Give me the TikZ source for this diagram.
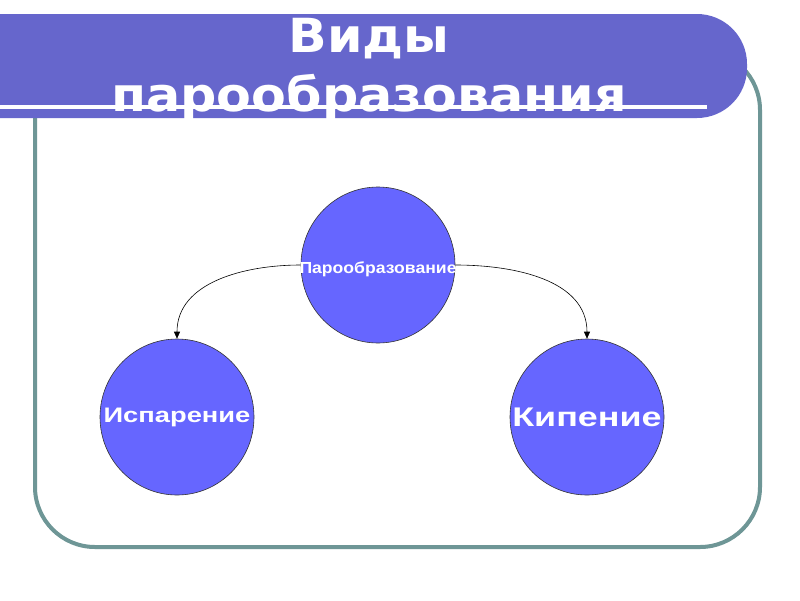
\documentclass[tikz,border=0pt]{standalone}
\usepackage{fontspec}
\setmainfont{Liberation Sans}
\newfontfamily\titlefont{DejaVu Sans}
\usetikzlibrary{shapes.geometric,arrows.meta}
\definecolor{banner}{RGB}{102,102,204}
\definecolor{ballfill}{RGB}{102,102,255}
\definecolor{framecol}{RGB}{110,150,150}
\newcommand{\wtext}[2]{\makebox[0pt]{\scalebox{#1}[1]{#2}}}
\tikzset{
  ball/.style={ellipse,draw=black!80,line width=0.6pt,fill=ballfill,minimum width=154pt,minimum height=156pt,inner sep=0pt,text=white},
  conn/.style={draw=black,line width=0.6pt,-{Triangle[length=7pt,width=6pt]}},
  titletext/.style={text=white,font=\titlefont\bfseries\fontsize{47}{50}\selectfont,inner sep=0pt,anchor=base}
}
\begin{document}
\begin{tikzpicture}[x=1pt,y=-1pt]
\useasboundingbox (0,0) rectangle (800,600);
\fill[white] (0,0) rectangle (800,600);
% frame
\draw[framecol,line width=4pt,rounded corners=60pt] (35,50) rectangle (760,547);
% banner
\fill[banner,rounded corners=50pt] (-60,14) rectangle (747,118);
\fill[banner] (-5,14) rectangle (100,118);
\draw[white,line width=4pt] (0,107) -- (707,107);
\node[titletext] (t1) at (369,52) {\scalebox{1.08}[1]{Виды}};
\node[titletext] (t2) at (369,111) {\scalebox{1.08}[1]{парообразования}};
% circles
\node[ball,font=\bfseries\fontsize{16}{18}\selectfont] (top) at (378,265) {\raisebox{-8.5pt}[0pt][0pt]{\wtext{1.1}{Парообразование}}};
\node[ball,font=\bfseries\fontsize{21}{24}\selectfont] (left) at (177,417) {\wtext{1.3}{Испарение}};
\node[ball,font=\bfseries\fontsize{27}{30}\selectfont] (right) at (587,417) {\wtext{1.33}{Кипение}};
% connectors
\draw[conn] (top.west) to[out=180,in=90] (left.north);
\draw[conn] (top.east) to[out=0,in=90] (right.north);
\end{tikzpicture}
\end{document}
